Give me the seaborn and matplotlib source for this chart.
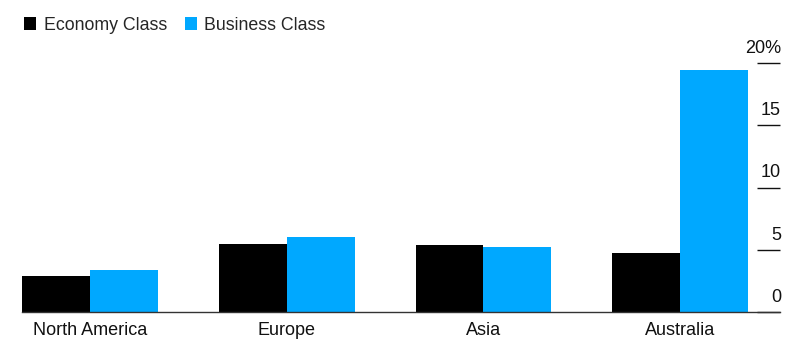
import pandas as pd
import matplotlib
matplotlib.use("Agg")
from matplotlib import pyplot as plt
from matplotlib import transforms
import seaborn as sns

# data ~~~~~~~~~~~~~~~~~~~~~~~~~~~~~~~~~~~~~~~~~~~~~~~~~~~~~~~~~~~~~~~~~~~~~~~~~~~~
regions = ["North America", "Europe", "Asia", "Australia"]
economy = [2.9, 5.5, 5.4, 4.7]
business = [3.4, 6.0, 5.2, 19.4]
classes = ["Economy Class", "Business Class"]
y_ticks = [0, 5, 10, 15, 20]
y_labels = ["0", "5", "10", "15", "20%"]

df = pd.DataFrame({
    "region": regions * 2,
    "cls": [classes[0]] * 4 + [classes[1]] * 4,
    "value": economy + business,
})

sns.set_style("white")
plt.rcParams["font.family"] = ["Liberation Sans", "DejaVu Sans"]

fig = plt.figure(figsize=(8.08, 3.52), dpi=100)
ax = fig.add_axes([22 / 808, 40 / 352, 758 / 808, 249 / 352])

sns.barplot(data=df, x="region", y="value", hue="cls", order=regions,
            hue_order=classes, palette=["#000000", "#00A8FF"],
            width=0.69, saturation=1, linewidth=0, ax=ax)

ax.set_xlim(-0.346, 3.508)
ax.set_ylim(0, 20)
ax.set_xlabel("")
ax.set_ylabel("")

for s in ["top", "left", "right"]:
    ax.spines[s].set_visible(False)
ax.spines["bottom"].set_color("#333333")
ax.spines["bottom"].set_linewidth(1)

ax.tick_params(axis="x", length=0, pad=7, labelsize=13, colors="#111111")

# right-hand y axis: short tick lines inside, labels sitting on them
ax.yaxis.tick_right()
ax.set_yticks(y_ticks)
ax.set_yticklabels(y_labels)
ax.tick_params(axis="y", direction="in", length=16.5, width=1, color="#111111",
               pad=0.7, labelsize=13, labelcolor="#111111")
shift = transforms.ScaledTranslation(0, 12 / 72, fig.dpi_scale_trans)
for lab in ax.get_yticklabels():
    lab.set_horizontalalignment("right")
    lab.set_transform(lab.get_transform() + shift)
    lab.set_clip_on(False)

handles, labels = ax.get_legend_handles_labels()
ax.get_legend().remove()
fig.legend(handles, labels, loc="center left", bbox_to_anchor=(24 / 808, 1 - 25 / 352),
           ncol=2, frameon=False, fontsize=12.8, handlelength=0.7, handleheight=0.7,
           handletextpad=0.4, columnspacing=1.0, borderpad=0, borderaxespad=0)

plt.savefig("out.png", dpi=100)
